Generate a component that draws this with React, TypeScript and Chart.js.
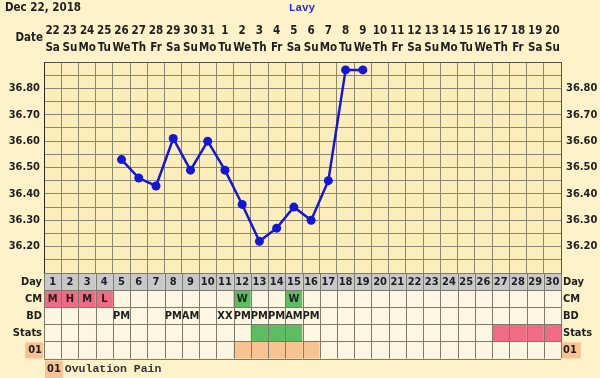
import React, { useEffect, useRef } from 'react';
import { Chart, registerables } from 'chart.js';

Chart.register(...registerables);

const titleText = 'Dec 22, 2018';
const userName = 'Lavy';
const legendCode = '01';
const legendText = 'Ovulation Pain';

const cycleDays = ['1','2','3','4','5','6','7','8','9','10','11','12','13','14','15','16','17','18','19','20','21','22','23','24','25','26','27','28','29','30'];
const dates = ['22','23','24','25','26','27','28','29','30','31','1','2','3','4','5','6','7','8','9','10','11','12','13','14','15','16','17','18','19','20'];
const weekdays = ['Sa','Su','Mo','Tu','We','Th','Fr','Sa','Su','Mo','Tu','We','Th','Fr','Sa','Su','Mo','Tu','We','Th','Fr','Sa','Su','Mo','Tu','We','Th','Fr','Sa','Su'];
const temps: (number | null)[] = [null, null, null, null, 36.53, 36.46, 36.43, 36.61, 36.49, 36.60, 36.49, 36.36, 36.22, 36.27, 36.35, 36.30, 36.45, 36.87, 36.87, null, null, null, null, null, null, null, null, null, null, null];
const cmValues = ['M','H','M','L','','','','','','','','W','','','W','','','','','','','','','','','','','','',''];
const cmKinds = ['pink','pink','pink','pink','','','','','','','','green','','','green','','','','','','','','','','','','','','',''];
const bdValues = ['','','','','PM','','','PM','AM','','XX','PM','PM','PM','AM','PM','','','','','','','','','','','','','',''];
const statsKinds = ['','','','','','','','','','','','','green','green','green','','','','','','','','','','','','pink','pink','pink','pink'];
const ovulationPain = [0,0,0,0,0,0,0,0,0,0,0,1,1,1,1,1,0,0,0,0,0,0,0,0,0,0,0,0,0,0];
const rowLabels = ['Day','CM','BD','Stats','01'];
const yMin = 36.1;
const yMax = 36.9;
const yStep = 0.05;

const FONT = '"DejaVu Sans Condensed", "DejaVu Sans", sans-serif';
const MONO = '"Liberation Mono", "DejaVu Sans Mono", monospace';
const BG = '#FDF2CA';
const PLOT_BG = '#FBEEBA';
const GRID = '#8C8772';
const TABLE_LINE = '#7E7A69';
const CELL_BG = '#FDF6E3';
const DAY_BG = '#C7C8CA';
const PINK = '#EF6C84';
const GREEN = '#5DBD62';
const PEACH = '#F8C291';
const TEXT = '#1E1E1E';
const BLUE = '#1616D8';

const colorFor = (k: string) => (k === 'pink' ? PINK : k === 'green' ? GREEN : CELL_BG);

const tablePlugin = {
  id: 'fertilityTable',
  beforeDraw(chart: any) {
    const { ctx, chartArea } = chart;
    ctx.save();
    ctx.fillStyle = BG;
    ctx.fillRect(0, 0, chart.width, chart.height);
    ctx.fillStyle = PLOT_BG;
    ctx.fillRect(chartArea.left, chartArea.top, chartArea.right - chartArea.left, chartArea.bottom - chartArea.top);
    ctx.restore();
  },
  afterDraw(chart: any) {
    const { ctx, chartArea } = chart;
    const x = chart.scales.x;
    const colW = x.getPixelForValue(1) - x.getPixelForValue(0);
    const rowH = 17.1;
    const top0 = chartArea.bottom;
    ctx.save();
    for (let r = 0; r < 5; r++) {
      const yTop = top0 + r * rowH;
      for (let i = 0; i < cycleDays.length; i++) {
        const cx = x.getPixelForValue(i);
        const left = cx - colW / 2;
        let fill = CELL_BG;
        let text = '';
        if (r === 0) { fill = DAY_BG; text = cycleDays[i]; }
        if (r === 1) { fill = colorFor(cmKinds[i]); text = cmValues[i]; }
        if (r === 2) { text = bdValues[i]; }
        if (r === 3) { fill = colorFor(statsKinds[i]); }
        if (r === 4) { fill = ovulationPain[i] ? PEACH : CELL_BG; }
        ctx.fillStyle = fill;
        ctx.fillRect(left, yTop, colW, rowH);
        if (text) {
          ctx.fillStyle = TEXT;
          ctx.font = `bold 11px ${FONT}`;
          ctx.textAlign = 'center';
          ctx.textBaseline = 'middle';
          ctx.fillText(text, cx, yTop + rowH / 2 + 0.5);
        }
      }
    }
    ctx.strokeStyle = TABLE_LINE;
    ctx.lineWidth = 1;
    ctx.beginPath();
    for (let r = 0; r <= 5; r++) {
      const yy = Math.round(top0 + r * rowH) + 0.5;
      ctx.moveTo(chartArea.left, yy);
      ctx.lineTo(chartArea.right, yy);
    }
    for (let i = 0; i <= cycleDays.length; i++) {
      const xx = Math.round(x.getPixelForValue(i) - colW / 2) + 0.5;
      ctx.moveTo(xx, top0);
      ctx.lineTo(xx, top0 + 5 * rowH);
    }
    ctx.stroke();
    ctx.font = `bold 11px ${FONT}`;
    ctx.textBaseline = 'middle';
    for (let r = 0; r < 5; r++) {
      const yc = top0 + r * rowH + rowH / 2 + 0.5;
      const label = rowLabels[r];
      if (r === 4) {
        const wl = ctx.measureText(label).width;
        ctx.fillStyle = PEACH;
        ctx.fillRect(chartArea.left - 3 - wl - 2, top0 + r * rowH + 1, wl + 4, rowH - 1);
        ctx.fillRect(chartArea.right + 1, top0 + r * rowH + 1, wl + 5, rowH - 1);
      }
      ctx.fillStyle = TEXT;
      ctx.textAlign = 'right';
      ctx.fillText(label, chartArea.left - 2, yc);
      ctx.textAlign = 'left';
      ctx.fillText(label, chartArea.right + 2, yc);
    }
    const ly = top0 + 5 * rowH + 2;
    ctx.font = `bold 11px ${FONT}`;
    const wc = ctx.measureText(legendCode).width;
    ctx.fillStyle = PEACH;
    ctx.fillRect(chartArea.left + 1, ly, wc + 4, 18);
    ctx.fillStyle = TEXT;
    ctx.textAlign = 'left';
    ctx.fillText(legendCode, chartArea.left + 3, ly + 9);
    ctx.font = `bold 11.5px ${MONO}`;
    ctx.fillStyle = '#333333';
    ctx.fillText(legendText, chartArea.left + wc + 7, ly + 9);
    ctx.font = `bold 11.5px ${FONT}`;
    ctx.fillStyle = TEXT;
    ctx.textBaseline = 'middle';
    ctx.fillText(titleText, 5, 8);
    ctx.font = `bold 11px ${MONO}`;
    ctx.fillStyle = '#2A2AD8';
    ctx.textAlign = 'center';
    ctx.fillText(userName, 302, 8);
    ctx.font = `bold 11.5px ${FONT}`;
    ctx.fillStyle = TEXT;
    ctx.textAlign = 'right';
    ctx.fillText('Date', 43, 38);
    ctx.restore();
  },
};

const yTickCallback = (v: any) => {
  const n = Math.round(Number(v) * 100);
  if (n % 10 !== 0 || n < 3620 || n > 3680) return '';
  return (n / 100).toFixed(2);
};

export default function App() {
  const ref = useRef<HTMLCanvasElement>(null);
  useEffect(() => {
    document.body.style.margin = '0';
    document.body.style.background = BG;
    if (!ref.current) return;
    const tickFont = { family: FONT, size: 11, weight: 'bold' as const };
    const chart = new Chart(ref.current, {
      type: 'line',
      data: {
        labels: cycleDays,
        datasets: [
          {
            data: temps,
            yAxisID: 'y',
            borderColor: BLUE,
            backgroundColor: BLUE,
            borderWidth: 2.5,
            pointRadius: 4.5,
            pointBorderWidth: 0,
            pointBackgroundColor: BLUE,
            spanGaps: false,
            tension: 0,
          },
        ],
      },
      options: {
        responsive: false,
        animation: false,
        layout: { padding: { left: 0, right: 0, top: 0, bottom: 105 } },
        plugins: { legend: { display: false }, tooltip: { enabled: false } },
        scales: {
          x: {
            type: 'category',
            position: 'top',
            offset: true,
            grid: { offset: true, color: GRID, lineWidth: 1, drawTicks: false },
            border: { color: '#555244' },
            ticks: {
              autoSkip: false,
              maxRotation: 0,
              minRotation: 0,
              padding: 5,
              color: TEXT,
              font: { family: FONT, size: 11.5, weight: 'bold' as const, lineHeight: 1.5 },
              callback: (_v: any, i: number) => [dates[i], weekdays[i]],
            },
            afterFit: (s: any) => { s.height = 62; },
          },
          y: {
            position: 'left',
            min: yMin,
            max: yMax,
            grid: { color: GRID, lineWidth: 1, drawTicks: false },
            border: { color: '#2A2A22' },
            ticks: { stepSize: yStep, autoSkip: false, padding: 4, color: TEXT, font: tickFont, callback: yTickCallback },
            afterFit: (s: any) => { s.width = 44; },
          },
          y2: {
            position: 'right',
            min: yMin,
            max: yMax,
            grid: { display: false, drawTicks: false },
            border: { color: '#555244' },
            ticks: { stepSize: yStep, autoSkip: false, padding: 5, color: TEXT, font: tickFont, callback: yTickCallback },
            afterFit: (s: any) => { s.width = 39; },
          },
        },
      },
      plugins: [tablePlugin],
    });
    return () => chart.destroy();
  }, []);
  return (
    <div style={{ width: 600, height: 378, background: BG }}>
      <canvas ref={ref} width={600} height={378} style={{ display: 'block' }} />
    </div>
  );
}
